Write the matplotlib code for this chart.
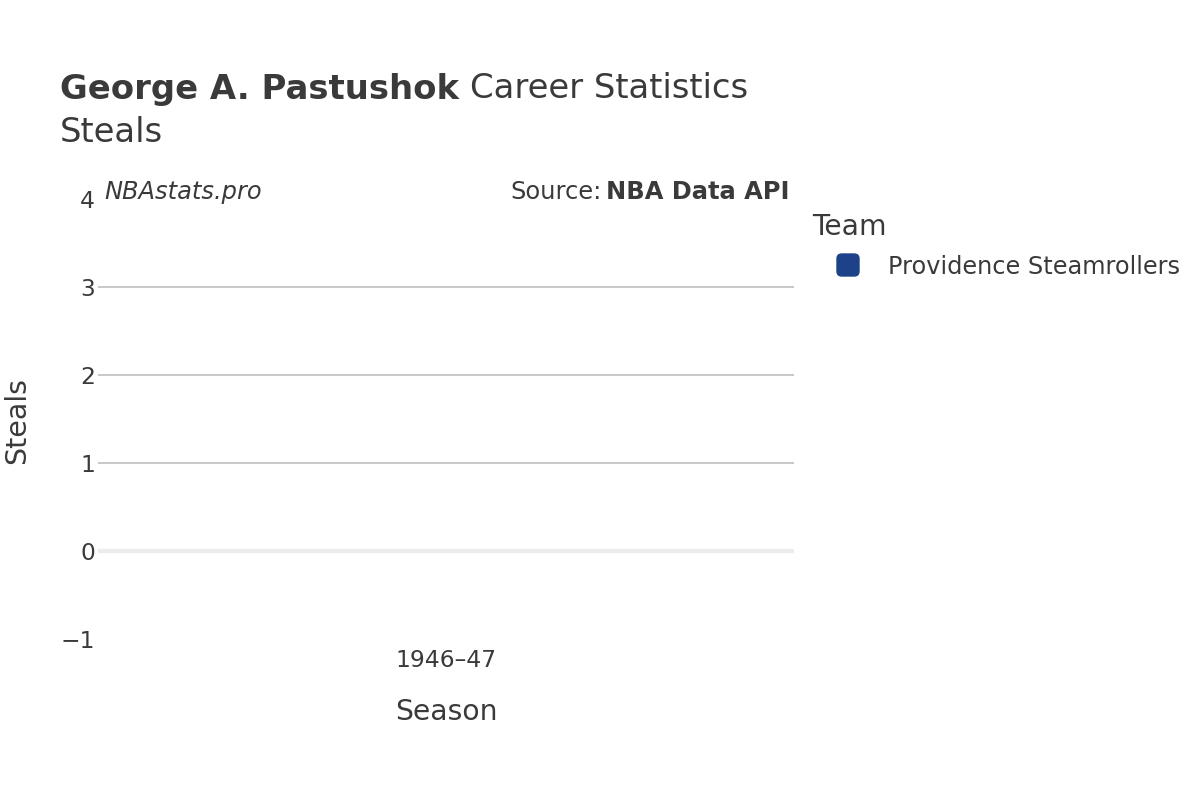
import matplotlib
matplotlib.use('Agg')
import matplotlib.pyplot as plt
from matplotlib.patches import FancyBboxPatch

plt.rcParams['font.family'] = ['DejaVu Sans']

# data
seasons = ['1946\u201347']
steals = [0]
team = 'Providence Steamrollers'
team_color = '#1d428a'
text_color = '#3a3a3a'

W, H = 1200, 800
fig = plt.figure(figsize=(12, 8), dpi=100)
ax = fig.add_axes([98 / W, 1 - 639 / H, 696 / W, 440 / H])

ax.bar(seasons, steals, color=team_color, width=0.8)
ax.set_xlim(-1.5, 1.5)
ax.set_ylim(-1, 4)
ax.set_yticks([-1, 0, 1, 2, 3, 4])
for y in [1, 2, 3]:
    ax.axhline(y, color='#c4c4c4', lw=1.3, zorder=0)
ax.axhline(0, color='#ececec', lw=3, zorder=0)

for s in ax.spines.values():
    s.set_visible(False)
ax.tick_params(axis='both', length=0, labelsize=16.8, colors=text_color)
ax.tick_params(axis='x', pad=7)
ax.tick_params(axis='y', pad=2)

fig.text(446 / W, 1 - 712 / H, 'Season', ha='center', va='center',
         fontsize=20.3, color=text_color)
fig.text(17 / W, 1 - 420 / H, 'Steals', ha='center', va='center',
         rotation=90, fontsize=20.5, color=text_color)

# title
t = fig.text(60 / W, 1 - 89 / H, 'George A. Pastushok', ha='left', va='center',
             fontsize=24.4, fontweight='bold', color=text_color)
fig.canvas.draw()
bb = t.get_window_extent()
fig.text((bb.x1 + 11) / W, 1 - 89 / H, 'Career Statistics', ha='left', va='center',
         fontsize=24.4, color=text_color)
fig.text(60 / W, 1 - 133 / H, 'Steals', ha='left', va='center',
         fontsize=24.4, color=text_color)

# watermarks
fig.text(104 / W, 1 - 192 / H, 'NBAstats.pro', ha='left', va='center',
         fontsize=17.4, style='italic', color=text_color)
s2 = fig.text(790 / W, 1 - 192 / H, 'NBA Data API', ha='right', va='center',
              fontsize=17.4, fontweight='bold', color=text_color)
fig.canvas.draw()
bb2 = s2.get_window_extent()
fig.text((bb2.x0 - 5) / W, 1 - 192 / H, 'Source:', ha='right', va='center',
         fontsize=17.4, color=text_color)

# legend
fig.text(812 / W, 1 - 227 / H, 'Team', ha='left', va='center',
         fontsize=20.3, color=text_color)
fig.patches.append(FancyBboxPatch((837 / W, 1 - 276 / H), 22 / W, 22 / H,
                                  boxstyle='round,pad=0,rounding_size=0.004',
                                  transform=fig.transFigure, color=team_color,
                                  mutation_aspect=1.5))
fig.text(888 / W, 1 - 267 / H, team, ha='left', va='center',
         fontsize=17.3, color=text_color)

fig.savefig('out.png', dpi=100)
